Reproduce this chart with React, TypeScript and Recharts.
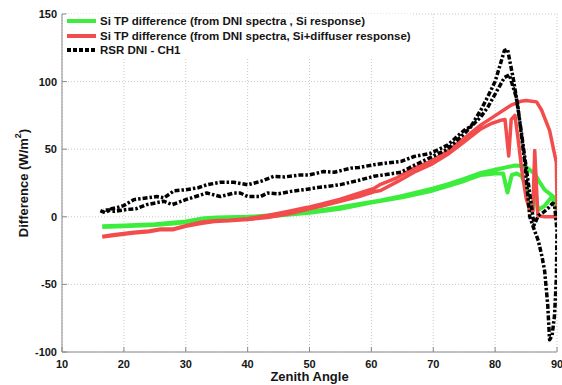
import React from 'react';
import { LineChart, Line, XAxis, YAxis, CartesianGrid, Legend, Label } from 'recharts';

type P = { x: number; y: number };
const mk = (a: number[][]): P[] => a.map(([x, y]) => ({ x, y }));

const xTicks = [10, 20, 30, 40, 50, 60, 70, 80, 90];
const yTicks = [-100, -50, 0, 50, 100, 150];

const greenPts = mk([
  [16.5, -7.5], [20, -7], [25, -6], [28, -5], [30, -4], [32, -2], [35, -1.5], [40, -0.8], [45, 1], [50, 3],
  [55, 6], [60, 10.5], [65, 14.5], [70, 19.5], [75, 26.5], [77.7, 31], [80, 32], [81.3, 32], [82, 18], [82.7, 31],
  [83.5, 32], [84.3, 30], [85.2, 20], [85.5, 6], [86, 4], [86.4, 22], [86.9, 5], [88, 8], [89, 14], [90, 10],
  [90, 3], [89.4, 15], [88, 20], [87, 27], [86.4, 32], [84.8, 37.5], [83.2, 38], [80.2, 35], [77.7, 32.5], [75, 28],
  [72.3, 24], [70, 21], [65, 15.5], [61.5, 12], [60, 11], [55, 7], [50, 3.5], [45, 1.5], [40, 0], [35, -0.5],
  [33, -1], [30, -3.5], [25, -5.5], [20, -6.5], [16.5, -7],
]);

const redPts = mk([
  [16.5, -15], [18, -14], [21.6, -12], [24, -11], [26, -9.5], [28, -9.5], [30, -7], [32.4, -5], [34.6, -3.5], [37, -3],
  [40, -2], [43.2, -0.5], [46.5, 2], [49.7, 5.5], [52, 8], [55, 11.5], [58, 15], [60.4, 18.5], [61.5, 19.5], [64.2, 26],
  [66.9, 33], [69.6, 38.5], [72.3, 46], [75, 55.5], [77.7, 65], [79.4, 69], [81, 71.5], [81.6, 72], [82.2, 45], [82.6, 72],
  [83.2, 75], [83.7, 58], [84.3, 35], [85, 14], [85.6, 5], [86.1, 4], [86.4, 49], [86.9, 1], [88, 0], [90, 0],
  [90, 10], [89.9, 40], [88.8, 64], [87.5, 79], [86.7, 85], [85, 86], [84.2, 85.5], [82.6, 82.6], [79.4, 73], [77.7, 68],
  [76.1, 62], [75, 58], [72.3, 48.5], [69.6, 41], [66.9, 36], [64.2, 29], [61.5, 24], [60.4, 21], [55, 13], [52, 9.5],
  [49.7, 7], [46.5, 4], [43.2, 1], [40, -1.5], [37, -2.5], [34.6, -3], [32.4, -4], [30, -6.5], [28, -9], [26, -9],
  [24, -10.5], [21.6, -11.5], [18, -13.5], [16.5, -14.5],
]);

const blackPts = mk([
  [16.2, 4.6], [17, 3], [18, 6], [19, 7], [20, 8.3], [21.6, 12.7], [23, 13.5], [25.3, 15], [26.5, 14], [28.1, 19.3],
  [30, 20], [32, 21.5], [33.4, 23.7], [35.6, 25.5], [37.8, 25.5], [40, 23.7], [42.1, 26.2], [44.2, 29.9], [46, 29.5], [48.6, 31],
  [50, 31], [52.3, 33.5], [54, 33], [56.7, 36], [58, 36.5], [60.4, 38.5], [62, 39.5], [64.8, 41], [66.9, 44.6], [69.6, 47],
  [72.3, 53], [75, 64], [76.1, 67], [77.7, 79], [78.8, 88.7], [80, 100], [81.5, 123], [82, 124], [82.9, 103], [83.7, 81],
  [84.8, 40], [85.6, 0], [86.2, -8], [87, -18], [87.6, -30], [88, -40], [88.5, -65], [88.8, -91], [89.2, -88], [89.6, -73],
  [89.9, -45], [90, -10], [89.6, 9], [89.3, 10], [88.5, 6], [87.7, 3], [87, 1], [86.3, -6], [86.1, 0.4], [85.3, 27],
  [84.2, 64], [83.4, 88.7], [82.3, 105], [81.5, 103], [78.8, 81], [77.7, 74], [75, 61.5], [72.3, 50], [69.6, 44], [66.9, 38],
  [64.8, 33], [62, 31], [60.4, 30], [58, 27], [55, 23.8], [53, 22.5], [51.3, 21.6], [49, 20], [47, 18.8], [45, 17],
  [43.2, 17.6], [42.1, 15], [40, 15], [38.8, 17.6], [37.8, 17.6], [35.6, 15], [33.4, 17.6], [30, 12.7], [27.8, 9], [26.5, 11.5],
  [23.7, 9], [22, 6], [20.5, 5.4], [18.5, 4], [17.5, 5], [16.7, 5],
]);

const seriesNames = [
  'Si TP difference (from DNI spectra , Si response)',
  'Si TP difference (from DNI spectra, Si+diffuser response)',
  'RSR DNI - CH1',
];

const GREEN = '#3ded3d';
const RED = '#f24c4c';
const BLACK = '#000000';
const BLACK_DASH = '5 2 2.5 2';
const FONT = '"Liberation Sans", Arial, Helvetica, sans-serif';
const AXIS = '#8a8a8a';

const renderLegend = () => {
  const styles = [
    { color: GREEN, w: 4, dash: undefined as string | undefined },
    { color: RED, w: 4, dash: undefined as string | undefined },
    { color: BLACK, w: 4, dash: '4 2' },
  ];
  return (
    <div style={{ fontFamily: FONT, fontWeight: 'bold', fontSize: 11.5, color: '#151515', background: '#fff' }}>
      {seriesNames.map((n, i) => (
        <div key={n} style={{ display: 'flex', alignItems: 'center', height: 14.5, whiteSpace: 'nowrap' }}>
          <svg width={31} height={8} style={{ marginRight: 3 }}>
            <line x1={1} y1={4} x2={30} y2={4} stroke={styles[i].color} strokeWidth={styles[i].w} strokeDasharray={styles[i].dash} />
          </svg>
          <span>{n}</span>
        </div>
      ))}
    </div>
  );
};

const YLabelContent = (props: any) => {
  const vb = props.viewBox || { y: 14, height: 338 };
  const cx = 23;
  const cy = vb.y + vb.height / 2;
  return (
    <text x={cx} y={cy} transform={`rotate(-90 ${cx} ${cy})`} textAnchor="middle" dominantBaseline="central"
      fontFamily={FONT} fontWeight="bold" fontSize={13} fill="#151515">
      Difference (W/m<tspan dy={-5} fontSize={9}>2</tspan><tspan dy={5}>)</tspan>
    </text>
  );
};

const tickStyle = { fontFamily: FONT, fontWeight: 'bold' as const, fontSize: 11, fill: '#151515' };

export default function App() {
  return (
    <div style={{ position: 'absolute', left: 0, top: 0, background: '#fff' }}>
      <LineChart width={562} height={385} margin={{ top: 14, right: 5, bottom: 0, left: 0 }}>
        <CartesianGrid stroke="#c8c8c8" strokeDasharray="1 2" strokeWidth={1} />
        <XAxis type="number" dataKey="x" domain={[10, 90]} ticks={xTicks} allowDataOverflow
          height={33} stroke={AXIS} tickSize={-5} tickMargin={13} tick={tickStyle} interval={0}>
          <Label value="Zenith Angle" position="insideBottom" offset={4}
            style={{ fontFamily: FONT, fontWeight: 'bold', fontSize: 13, fill: '#151515' }} />
        </XAxis>
        <XAxis xAxisId="top" orientation="top" type="number" dataKey="x" domain={[10, 90]} ticks={xTicks}
          allowDataOverflow height={0} stroke={AXIS} tickSize={-5} tick={false} />
        <YAxis type="number" domain={[-100, 150]} ticks={yTicks} allowDataOverflow width={62}
          stroke={AXIS} tickSize={-5} tickMargin={10} tick={tickStyle} interval={0}>
          <Label content={<YLabelContent />} />
        </YAxis>
        <YAxis yAxisId="right" orientation="right" type="number" domain={[-100, 150]} ticks={yTicks}
          allowDataOverflow width={0} stroke={AXIS} tickSize={-5} tick={false} />
        <Line data={greenPts} dataKey="y" name={seriesNames[0]} type="linear" stroke={GREEN} strokeWidth={4}
          dot={false} activeDot={false} isAnimationActive={false} strokeLinejoin="round" />
        <Line data={redPts} dataKey="y" name={seriesNames[1]} type="linear" stroke={RED} strokeWidth={3.5}
          dot={false} activeDot={false} isAnimationActive={false} strokeLinejoin="round" />
        <Line data={blackPts} dataKey="y" name={seriesNames[2]} type="linear" stroke={BLACK} strokeWidth={3.5}
          strokeDasharray={BLACK_DASH} dot={false} activeDot={false} isAnimationActive={false} strokeLinejoin="round" />
        <Legend layout="vertical" align="center" verticalAlign="middle" content={renderLegend}
          wrapperStyle={{ top: 14, left: 66, width: 'auto', height: 'auto' }} />
      </LineChart>
    </div>
  );
}
